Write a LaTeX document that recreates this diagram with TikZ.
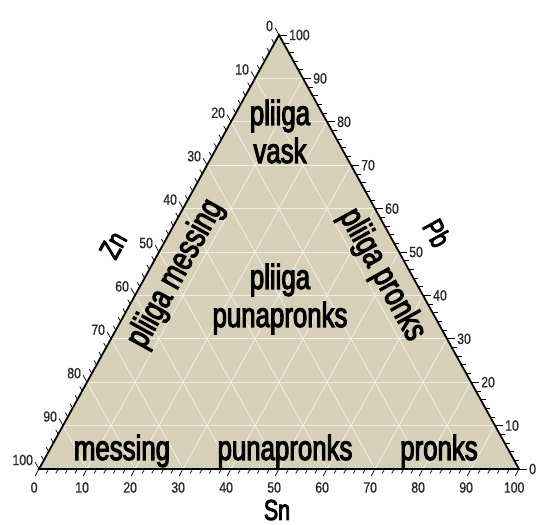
\documentclass[tikz,border=0pt]{standalone}
\usepackage{fontspec}
\setmainfont{Liberation Sans}
\newfontfamily\regfont[FakeStretch=0.74,FakeBold=3]{Liberation Sans}
\newfontfamily\numfont[FakeStretch=0.82,FakeBold=0.8]{Liberation Sans}
\usetikzlibrary{calc}
\definecolor{fillbeige}{RGB}{214,208,185}
\definecolor{gridcol}{RGB}{242,240,230}
\definecolor{numgray}{RGB}{40,40,40}
\begin{document}
\begin{tikzpicture}[x=1bp,y=1bp,
  region/.style={font=\regfont\fontsize{35}{37}\selectfont, inner sep=0, anchor=base},
  axisname/.style={font=\regfont\fontsize{29}{31}\selectfont, inner sep=0},
  numlab/.style={font=\numfont\fontsize{15}{16}\selectfont, text=numgray, inner sep=0},
  gridline/.style={draw=gridcol, line width=0.8bp},
  tickline/.style={draw=black, line width=0.7bp},
  frame/.style={draw=black, line width=1.8bp, line join=miter}]
\useasboundingbox (0,0) rectangle (539,525);
\coordinate (A) at (39,56);
\coordinate (B) at (519,56);
\coordinate (C) at (279,490);
\fill[fillbeige] (A) -- (B) -- (C) -- cycle;
% grid
\foreach \i in {1,...,9}{
  \pgfmathsetmacro\t{\i/10}
  \pgfmathsetmacro\u{1-\i/10}
  \draw[gridline] ($(C)!\t!(A)$) -- ($(B)!\u!(C)$);
  \draw[gridline] ($(C)!\t!(A)$) -- ($(A)!\u!(B)$);
  \draw[gridline] ($(A)!\t!(B)$) -- ($(B)!\u!(C)$);
}
% ticks
\foreach \i in {0,2,...,100}{
  \pgfmathsetmacro\t{\i/100}
  \pgfmathsetmacro\len{ifthenelse(mod(\i,10)==0,8,5)}
  \draw[tickline] ($(C)!\t!(A)$) -- ++(118.95:\len);
  \draw[tickline] ($(A)!\t!(B)$) -- ++(241.05:\len);
  \draw[tickline] ($(B)!\t!(C)$) -- ++(0:\len);
}
% tick labels
\foreach \i in {0,10,...,100}{
  \pgfmathsetmacro\t{\i/100}
  \node[numlab, anchor=east] (zl\i) at ($(C)!\t!(A) + (118.95:8) + (-2,2)$) {\i};
  \node[numlab, anchor=north] (sl\i) at ($(A)!\t!(B) + (241.05:8) + (-1,-6)$) {\i};
  \node[numlab, anchor=west] (pl\i) at ($(B)!\t!(C) + (10,0)$) {\i};
}
\draw[frame] (A) -- (B) -- (C) -- cycle;
% region labels
\node[region] (r1) at (280,400) {pliiga};
\node[region] (r2) at (280,362) {vask};
\node[region] (r3) at (280,236) {pliiga};
\node[region] (r4) at (280,198) {punapronks};
\node[region] (r5) at (122,65) {messing};
\node[region] (r6) at (285,65) {punapronks};
\node[region] (r7) at (439,65) {pronks};
\node[region, anchor=center, rotate=61.05] (r8) at (176,251) {pliiga messing};
\node[region, anchor=center, rotate=-61.05] (r9) at (382,250) {pliiga pronks};
% axis names
\node[axisname, rotate=61.05] (zn) at (113,280) {Zn};
\node[axisname, rotate=-61.05] (pb) at (437,292) {Pb};
\node[axisname, anchor=base] (sn) at (277,5) {Sn};
\end{tikzpicture}
\end{document}
